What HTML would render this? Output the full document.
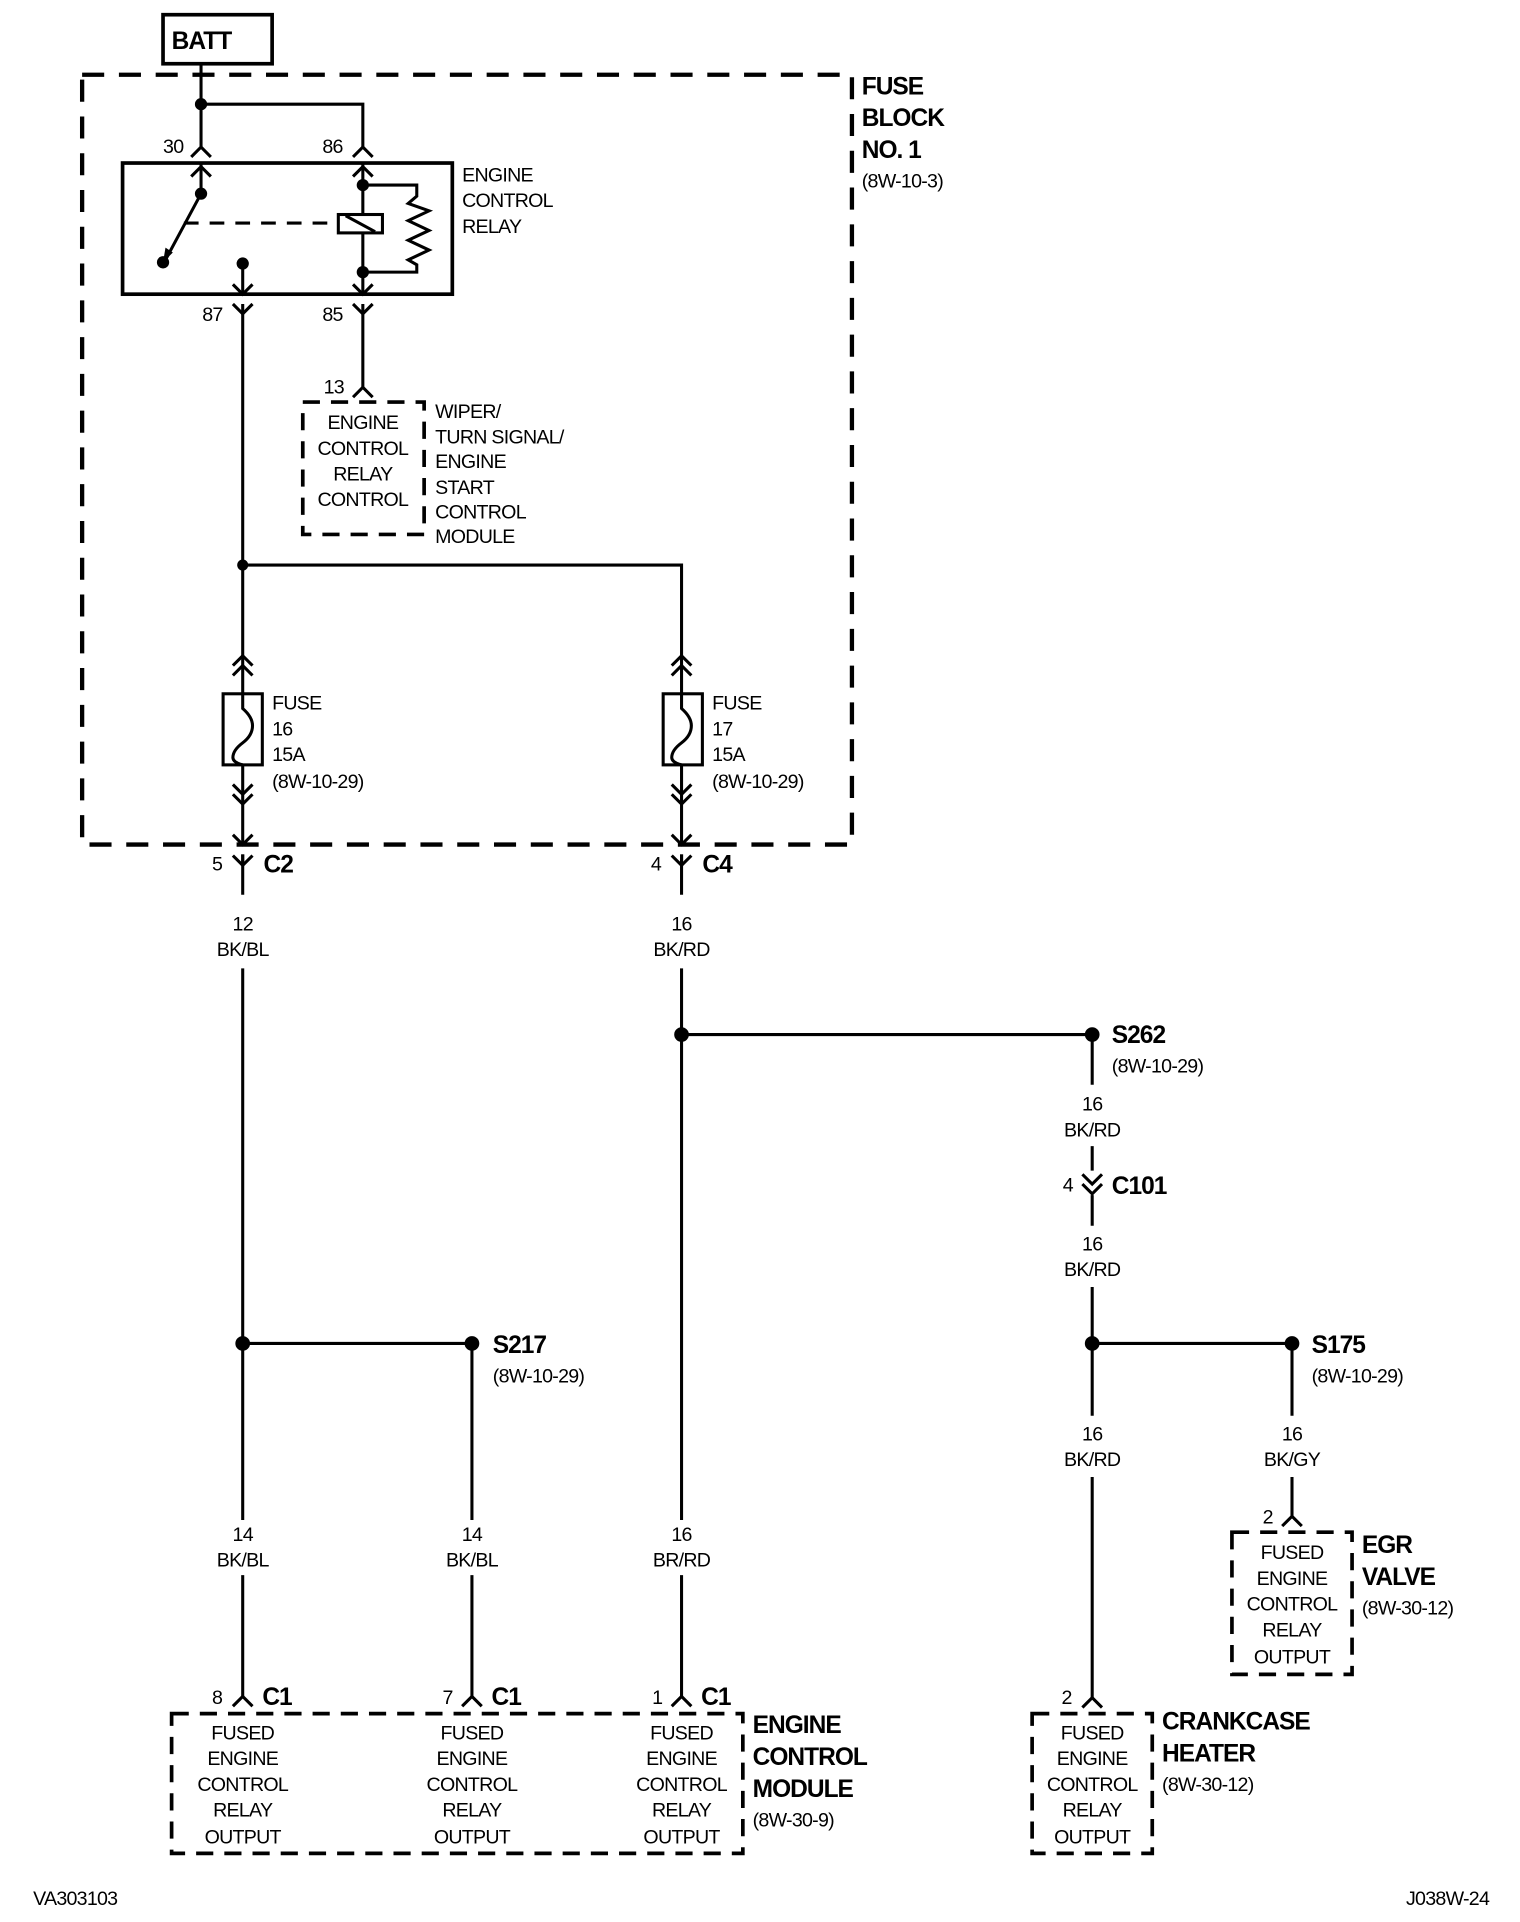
<!DOCTYPE html>
<html><head><meta charset="utf-8"><style>
html,body{margin:0;padding:0;background:#fff}
svg{display:block}
text{font-family:"Liberation Sans Narrow","Liberation Sans",sans-serif;font-size:16px;fill:#000;letter-spacing:-0.6px}
.b{font-weight:bold;font-size:20px;letter-spacing:-0.8px}
</style></head><body>
<svg width="1520" height="1922" viewBox="0 0 1240 1568" preserveAspectRatio="none" xmlns="http://www.w3.org/2000/svg">
<defs>
<g id="fem"><path d="M-8,8 L0,0 L8,8" fill="none" stroke="#000" stroke-width="2.5"/></g>
<g id="male"><path d="M-8,-8 L0,0 L8,-8" fill="none" stroke="#000" stroke-width="2.5"/></g>
</defs>
<g stroke="#000" stroke-width="2.5" fill="none">
<rect x="67" y="61" width="628" height="628" stroke-width="3.5" stroke-dasharray="18,12"/>
<rect x="133" y="12" width="89" height="40" stroke-width="3"/>
<path d="M164,52 V120 M164,85 H296 V120"/>
<rect x="100" y="133" width="269" height="107" stroke-width="3"/>
<path d="M164,133 V158 L135,212"/>
<path d="M150,182 H276" stroke-dasharray="12,9"/>
<rect x="276" y="175" width="36" height="15"/>
<path d="M282,176 L306,189"/>
<path d="M296,133 V175 M296,190 V240"/>
<path d="M296,151 H340 V160 L333,166 L350,172 L333,180 L350,188 L333,196 L350,204 L333,212 L340,216 V222 H296"/>
<path d="M198,215 V240"/>
<path d="M198,248 V566 M296,248 V316"/>
<path d="M198,461 H556 V566"/>
<rect x="182" y="566" width="32" height="58"/>
<path d="M198,566 V578 Q206,585 206,592 Q206,600 198,606 Q190,612 190,618 Q190,622 198,624"/>
<rect x="541" y="566" width="32" height="58"/>
<path d="M556,566 V578 Q564,585 564,592 Q564,600 556,606 Q548,612 548,618 Q548,622 556,624"/>
<path d="M198,624 V689 M556,624 V689"/>
<path d="M198,697 V730 M198,790 V1240 M198,1285 V1384"/>
<path d="M556,697 V730 M556,790 V1240 M556,1285 V1384"/>
<path d="M198,1096 H385 V1240 M385,1285 V1384"/>
<path d="M556,844 H891 V885 M891,935 V955 M891,975 V1000 M891,1050 V1155 M891,1205 V1385"/>
<path d="M891,1096 H1054 V1155 M1054,1205 V1237"/>
<rect x="247" y="328" width="99" height="108" stroke-width="3" stroke-dasharray="14,9"/>
<rect x="1005" y="1250" width="98" height="116" stroke-width="3" stroke-dasharray="14,9"/>
<rect x="842" y="1398" width="98" height="114" stroke-width="3" stroke-dasharray="14,9"/>
<rect x="140" y="1398" width="466" height="114" stroke-width="3" stroke-dasharray="14,9"/>
</g>
<g fill="#000">
<circle cx="164" cy="85" r="5"/><circle cx="164" cy="158" r="5"/><circle cx="133" cy="214" r="5"/>
<circle cx="198" cy="215" r="5"/><circle cx="296" cy="151" r="5"/><circle cx="296" cy="222" r="5"/>
<circle cx="198" cy="461" r="4.5"/>
<circle cx="556" cy="844" r="6"/><circle cx="891" cy="844" r="6"/>
<circle cx="198" cy="1096" r="6"/><circle cx="385" cy="1096" r="6"/>
<circle cx="891" cy="1096" r="6"/><circle cx="1054" cy="1096" r="6"/>
<path d="M133,214 l2,-12 l6,4 z"/>
</g>
<use href="#fem" x="164" y="120"/><use href="#fem" x="296" y="120"/>
<use href="#fem" x="164" y="136"/><use href="#fem" x="296" y="136"/>
<use href="#male" x="198" y="240"/><use href="#male" x="296" y="240"/>
<use href="#male" x="198" y="256"/><use href="#male" x="296" y="256"/>
<use href="#fem" x="296" y="316"/>
<use href="#fem" x="198" y="535"/><use href="#fem" x="198" y="543"/>
<use href="#fem" x="556" y="535"/><use href="#fem" x="556" y="543"/>
<use href="#male" x="198" y="648"/><use href="#male" x="198" y="656"/>
<use href="#male" x="556" y="648"/><use href="#male" x="556" y="656"/>
<use href="#male" x="198" y="689"/><use href="#male" x="556" y="689"/>
<use href="#male" x="198" y="706"/><use href="#male" x="556" y="706"/>
<path d="M198,697 V706 M556,697 V706" stroke="#000" stroke-width="2.5"/>
<use href="#male" x="891" y="966"/><use href="#male" x="891" y="974"/>
<use href="#fem" x="198" y="1384"/><use href="#fem" x="385" y="1384"/><use href="#fem" x="556" y="1384"/>
<use href="#fem" x="891" y="1385"/><use href="#fem" x="1054" y="1237"/>
<text class="b" x="140" y="40">BATT</text>
<text x="133" y="125">30</text><text x="263" y="125">86</text>
<text x="165" y="262">87</text><text x="263" y="262">85</text>
<text x="264" y="321">13</text>
<text x="377" y="148">ENGINE</text><text x="377" y="169">CONTROL</text><text x="377" y="190">RELAY</text>
<text class="b" x="703" y="77">FUSE</text><text class="b" x="703" y="103">BLOCK</text><text class="b" x="703" y="129">NO. 1</text>
<text x="703" y="153">(8W-10-3)</text>
<g text-anchor="middle"><text x="296" y="350">ENGINE</text><text x="296" y="371">CONTROL</text><text x="296" y="392">RELAY</text><text x="296" y="413">CONTROL</text></g>
<text x="355" y="341">WIPER/</text><text x="355" y="362">TURN SIGNAL/</text><text x="355" y="382">ENGINE</text><text x="355" y="403">START</text><text x="355" y="423">CONTROL</text><text x="355" y="443">MODULE</text>
<text x="222" y="579">FUSE</text><text x="222" y="600">16</text><text x="222" y="621">15A</text><text x="222" y="643">(8W-10-29)</text>
<text x="581" y="579">FUSE</text><text x="581" y="600">17</text><text x="581" y="621">15A</text><text x="581" y="643">(8W-10-29)</text>
<text x="173" y="710">5</text><text class="b" x="215" y="712">C2</text>
<text x="531" y="710">4</text><text class="b" x="573" y="712">C4</text>
<g text-anchor="middle">
<text x="198" y="759">12</text><text x="198" y="780">BK/BL</text>
<text x="556" y="759">16</text><text x="556" y="780">BK/RD</text>
<text x="891" y="906">16</text><text x="891" y="927">BK/RD</text>
<text x="891" y="1020">16</text><text x="891" y="1041">BK/RD</text>
<text x="891" y="1175">16</text><text x="891" y="1196">BK/RD</text>
<text x="1054" y="1175">16</text><text x="1054" y="1196">BK/GY</text>
<text x="198" y="1257">14</text><text x="198" y="1278">BK/BL</text>
<text x="385" y="1257">14</text><text x="385" y="1278">BK/BL</text>
<text x="556" y="1257">16</text><text x="556" y="1278">BR/RD</text>
</g>
<text class="b" x="907" y="851">S262</text><text x="907" y="875">(8W-10-29)</text>
<text x="867" y="972">4</text><text class="b" x="907" y="974">C101</text>
<text class="b" x="402" y="1104">S217</text><text x="402" y="1128">(8W-10-29)</text>
<text class="b" x="1070" y="1104">S175</text><text x="1070" y="1128">(8W-10-29)</text>
<text x="1030" y="1243">2</text>
<text class="b" x="1111" y="1267">EGR</text><text class="b" x="1111" y="1293">VALVE</text><text x="1111" y="1317">(8W-30-12)</text>
<g text-anchor="middle">
<text x="1054" y="1272">FUSED</text><text x="1054" y="1293">ENGINE</text><text x="1054" y="1314">CONTROL</text><text x="1054" y="1335">RELAY</text><text x="1054" y="1357">OUTPUT</text>
<text x="891" y="1419">FUSED</text><text x="891" y="1440">ENGINE</text><text x="891" y="1461">CONTROL</text><text x="891" y="1482">RELAY</text><text x="891" y="1504">OUTPUT</text>
<text x="198" y="1419">FUSED</text><text x="198" y="1440">ENGINE</text><text x="198" y="1461">CONTROL</text><text x="198" y="1482">RELAY</text><text x="198" y="1504">OUTPUT</text>
<text x="385" y="1419">FUSED</text><text x="385" y="1440">ENGINE</text><text x="385" y="1461">CONTROL</text><text x="385" y="1482">RELAY</text><text x="385" y="1504">OUTPUT</text>
<text x="556" y="1419">FUSED</text><text x="556" y="1440">ENGINE</text><text x="556" y="1461">CONTROL</text><text x="556" y="1482">RELAY</text><text x="556" y="1504">OUTPUT</text>
</g>
<text x="866" y="1390">2</text>
<text class="b" x="948" y="1411">CRANKCASE</text><text class="b" x="948" y="1437">HEATER</text><text x="948" y="1461">(8W-30-12)</text>
<text x="173" y="1390">8</text><text class="b" x="214" y="1391">C1</text>
<text x="361" y="1390">7</text><text class="b" x="401" y="1391">C1</text>
<text x="532" y="1390">1</text><text class="b" x="572" y="1391">C1</text>
<text class="b" x="614" y="1414">ENGINE</text><text class="b" x="614" y="1440">CONTROL</text><text class="b" x="614" y="1466">MODULE</text><text x="614" y="1490">(8W-30-9)</text>
<text x="27" y="1554">VA303103</text><text x="1147" y="1554">J038W-24</text>
</svg>
</body></html>
